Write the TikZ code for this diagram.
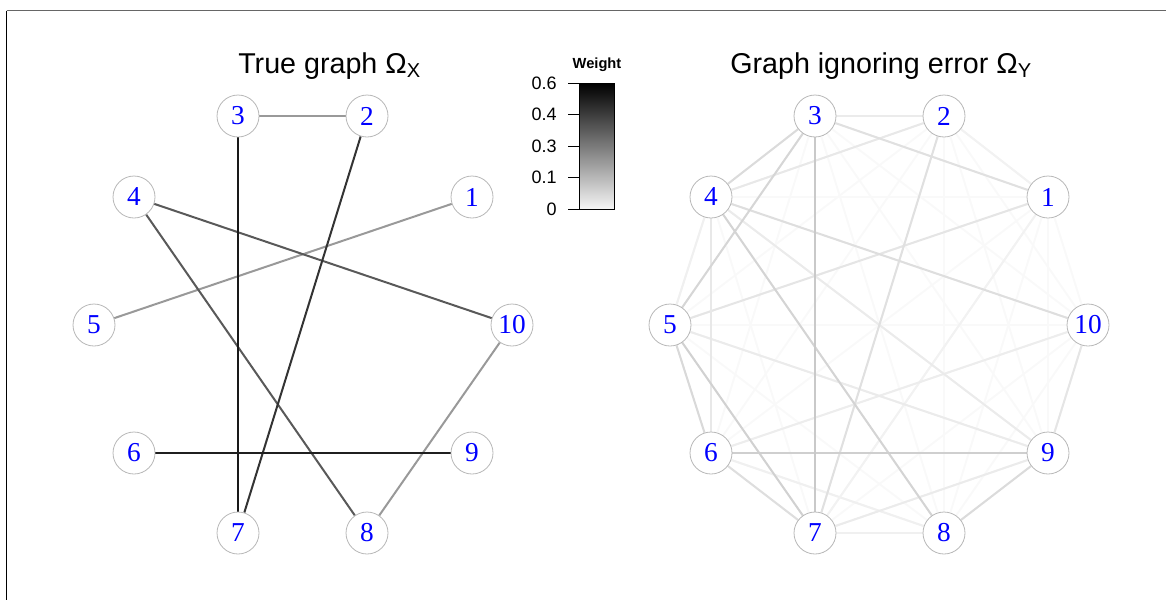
\documentclass[tikz,border=0pt]{standalone}
\usepackage{fontspec}
\setmainfont{Liberation Sans}
\newfontfamily\serifnum{Liberation Serif}
\usetikzlibrary{backgrounds}
\tikzset{
  vert/.style={circle, draw=black!28, line width=0.6pt, fill=white, minimum size=31.5pt, inner sep=0pt, text=blue, font=\serifnum\fontsize{20.5}{20.5}\selectfont},
  edge/.style={line width=1.5pt},
  redge/.style={line width=1.5pt},
  title/.style={anchor=base west, inner sep=0pt, font=\fontsize{21.5}{21.5}\selectfont},
  tick/.style={line width=0.6pt},
  ticklab/.style={anchor=east, inner sep=0pt, font=\fontsize{13.5}{13.5}\selectfont}
}
\begin{document}
\begin{tikzpicture}[x=0.75pt, y=-0.75pt]
\useasboundingbox (0,0) rectangle (1166,600);
% frame
\draw[black!60, line width=0.9pt] (6.5,10.5) -- (1166,10.5);
\draw[black, line width=0.9pt] (6.5,10.5) -- (6.5,600);

% titles
\node[title] (t1) at (238,73) {True graph Ω\textsubscript{X}};
\node[title] (t2) at (730,73) {Graph ignoring error Ω\textsubscript{Y}};

% legend
\node[inner sep=0pt, font=\bfseries\fontsize{11}{11}\selectfont] (lw) at (597,65) {Weight};
\shade[top color=black, bottom color=black!4] (579,83) rectangle (614,209);
\draw[line width=0.6pt] (579,83) rectangle (614,209);
\foreach \yy/\lab in {83/0.6,114/0.4,146/0.3,177/0.1,209/0}{
  \draw[tick] (568,\yy) -- (579,\yy);
  \node[ticklab] at (557,\yy) {\lab};
}

% left graph nodes
\node[vert] (a3) at (238,116) {3};
\node[vert] (a2) at (367,116) {2};
\node[vert] (a4) at (134,197) {4};
\node[vert] (a1) at (472,197) {1};
\node[vert] (a5) at (94,325) {5};
\node[vert] (a10) at (512,325) {10};
\node[vert] (a6) at (134,453) {6};
\node[vert] (a9) at (472,453) {9};
\node[vert] (a7) at (238,533) {7};
\node[vert] (a8) at (367,533) {8};

% right graph nodes
\node[vert] (b3) at (815,116) {3};
\node[vert] (b2) at (944,116) {2};
\node[vert] (b4) at (711,197) {4};
\node[vert] (b1) at (1048,197) {1};
\node[vert] (b5) at (670,325) {5};
\node[vert] (b10) at (1088,325) {10};
\node[vert] (b6) at (711,453) {6};
\node[vert] (b9) at (1048,453) {9};
\node[vert] (b7) at (815,533) {7};
\node[vert] (b8) at (944,533) {8};

\begin{scope}[on background layer]
% left graph edges
\draw[edge, black!40] (a3) -- (a2);
\draw[edge, black!40] (a1) -- (a5);
\draw[edge, black!40] (a10) -- (a8);
\draw[edge, black!65] (a4) -- (a10);
\draw[edge, black!65] (a4) -- (a8);
\draw[edge, black!80] (a2) -- (a7);
\draw[edge, black!90] (a3) -- (a7);
\draw[edge, black!88] (a6) -- (a9);

% right graph: faint edges between all pairs
\foreach \i in {1,...,10}{
  \foreach \j in {1,...,10}{
    \ifnum\i<\j
      \draw[redge, black!2.5] (b\i) -- (b\j);
    \fi
  }
}
% stronger edges
\foreach \p/\q/\c in {
  6/8/6, 7/8/6, 4/5/6, 2/1/5, 7/1/5,
  6/10/7, 3/2/8, 4/9/8, 5/9/8, 7/9/8,
  9/10/10, 5/1/10, 2/4/9, 4/6/9,
  3/1/12, 2/7/12, 4/10/13, 6/7/13,
  3/4/14, 5/6/15, 8/9/14,
  3/5/16, 4/8/17, 5/7/18, 6/9/19, 3/7/21}{
  \draw[redge, black!\c] (b\p) -- (b\q);
}
\end{scope}
\end{tikzpicture}
\end{document}
